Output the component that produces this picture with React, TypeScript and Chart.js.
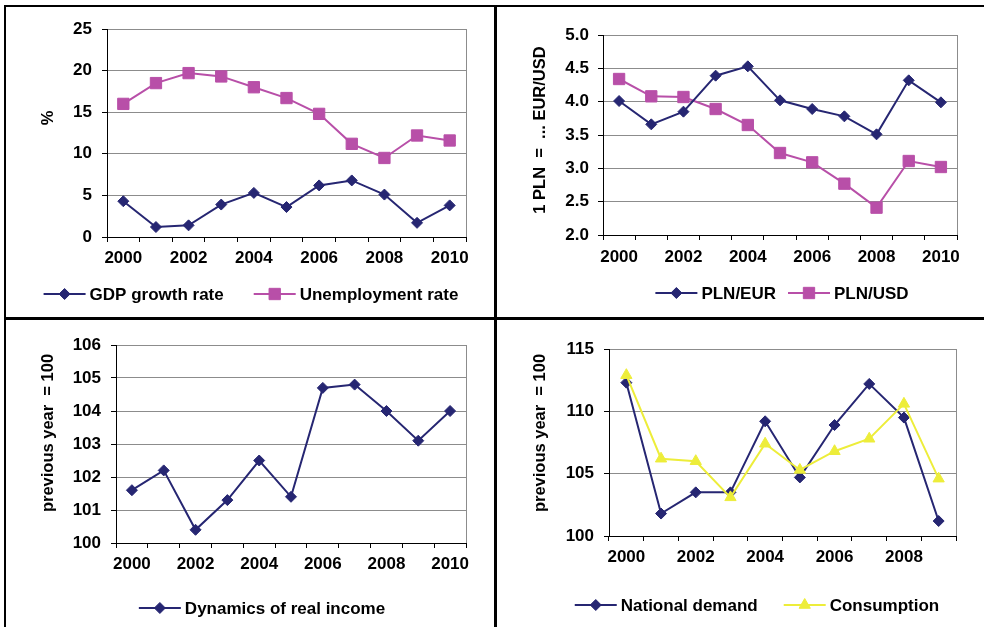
import React, { useEffect, useRef } from 'react';
import { Chart, registerables } from 'chart.js';

Chart.register(...registerables);

const FONT = "'Liberation Sans', Arial, Helvetica, sans-serif";
const NAVY = '#262672';
const MAGENTA = '#B84FA8';
const YELLOW = '#EDED3A';
const GRID = '#8c8c8c';

// ---- data ----
const years11 = ['2000', '2001', '2002', '2003', '2004', '2005', '2006', '2007', '2008', '2009', '2010'];
const years10 = ['2000', '2001', '2002', '2003', '2004', '2005', '2006', '2007', '2008', '2009'];

const gdpGrowth = [4.3, 1.2, 1.4, 3.9, 5.3, 3.6, 6.2, 6.8, 5.1, 1.7, 3.8];
const unemployment = [16.0, 18.5, 19.7, 19.3, 18.0, 16.7, 14.8, 11.2, 9.5, 12.2, 11.6];

const plnEur = [4.01, 3.66, 3.85, 4.39, 4.53, 4.02, 3.89, 3.78, 3.51, 4.32, 3.99];
const plnUsd = [4.34, 4.08, 4.07, 3.89, 3.65, 3.23, 3.09, 2.77, 2.41, 3.11, 3.02];

const realIncome = [101.6, 102.2, 100.4, 101.3, 102.5, 101.4, 104.7, 104.8, 104.0, 103.1, 104.0];

const nationalDemand = [112.3, 101.8, 103.5, 103.5, 109.2, 104.7, 108.9, 112.2, 109.5, 101.2];
const consumption = [112.9, 106.2, 106.0, 103.1, 107.4, 105.3, 106.8, 107.8, 110.6, 104.6];

// ---- marker drawing for the legend ----
function drawMarker(ctx: CanvasRenderingContext2D, style: string, r: number, x: number, y: number, color: string) {
  ctx.save();
  ctx.fillStyle = color;
  ctx.strokeStyle = color;
  ctx.lineWidth = 1;
  ctx.beginPath();
  if (style === 'rectRot') {
    ctx.moveTo(x - r, y);
    ctx.lineTo(x, y - r);
    ctx.lineTo(x + r, y);
    ctx.lineTo(x, y + r);
    ctx.closePath();
  } else if (style === 'rect') {
    const s = Math.SQRT1_2 * r;
    ctx.rect(x - s, y - s, 2 * s, 2 * s);
  } else if (style === 'triangle') {
    let a = 0;
    ctx.moveTo(x + Math.sin(a) * r, y - Math.cos(a) * r);
    a += (2 * Math.PI) / 3;
    ctx.lineTo(x + Math.sin(a) * r, y - Math.cos(a) * r);
    a += (2 * Math.PI) / 3;
    ctx.lineTo(x + Math.sin(a) * r, y - Math.cos(a) * r);
    ctx.closePath();
  } else {
    ctx.arc(x, y, r, 0, Math.PI * 2);
  }
  ctx.fill();
  ctx.stroke();
  ctx.restore();
}

const overlayPlugin = {
  id: 'overlay',
  beforeDatasetsDraw(chart: any) {
    const { ctx, chartArea } = chart;
    ctx.save();
    ctx.strokeStyle = GRID;
    ctx.lineWidth = 1;
    ctx.beginPath();
    ctx.moveTo(Math.round(chartArea.right) + 0.5, chartArea.top);
    ctx.lineTo(Math.round(chartArea.right) + 0.5, chartArea.bottom);
    ctx.stroke();
    ctx.restore();
  },
  afterDraw(chart: any, _args: any, o: any) {
    const ctx: CanvasRenderingContext2D = chart.ctx;
    // axis title
    ctx.save();
    ctx.font = `bold 16.5px ${FONT}`;
    ctx.fillStyle = '#000';
    ctx.translate(o.titleX, o.titleY);
    ctx.rotate(-Math.PI / 2);
    ctx.textAlign = 'center';
    ctx.textBaseline = 'middle';
    ctx.fillText(o.title, 0, 0);
    ctx.restore();
    // legend
    ctx.save();
    ctx.font = `bold 17px ${FONT}`;
    const ds = chart.data.datasets;
    const LINE = 42;
    const GAP = 4;
    const widths = ds.map((d: any) => LINE + GAP + ctx.measureText(d.label).width);
    const total = widths.reduce((a: number, b: number) => a + b, 0) + o.legendGap * (ds.length - 1);
    let x = o.legendX - total / 2;
    const y = o.legendY;
    ds.forEach((d: any, i: number) => {
      ctx.strokeStyle = d.borderColor;
      ctx.lineWidth = 2;
      ctx.beginPath();
      ctx.moveTo(x, y);
      ctx.lineTo(x + LINE, y);
      ctx.stroke();
      drawMarker(ctx, d.pointStyle, d.pointRadius, x + LINE / 2, y, d.borderColor);
      ctx.fillStyle = '#000';
      ctx.textAlign = 'left';
      ctx.textBaseline = 'middle';
      ctx.fillText(d.label, x + LINE + GAP, y + 1);
      x += widths[i] + o.legendGap;
    });
    ctx.restore();
  },
};

type Series = { label: string; data: number[]; color: string; style: string; radius: number; order: number };

type Panel = {
  left: number; top: number; width: number; height: number;
  area: { l: number; r: number; t: number; b: number };
  labels: string[];
  yMin: number; yMax: number; yStep: number; decimals: number;
  yPad: number; xPad: number;
  title: string; titleX: number; titleY: number;
  legendX: number; legendY: number; legendGap: number;
  series: Series[];
};

const panels: Panel[] = [
  {
    left: 6, top: 7, width: 488, height: 310,
    area: { l: 101, r: 460, t: 22, b: 230 },
    labels: years11, yMin: 0, yMax: 25, yStep: 5, decimals: 0, yPad: 10, xPad: 6,
    title: '%', titleX: 42, titleY: 111,
    legendX: 245, legendY: 287, legendGap: 30,
    series: [
      { label: 'GDP growth rate', data: gdpGrowth, color: NAVY, style: 'rectRot', radius: 5.5, order: 0 },
      { label: 'Unemployment rate', data: unemployment, color: MAGENTA, style: 'rect', radius: 8, order: 1 },
    ],
  },
  {
    left: 497, top: 7, width: 487, height: 310,
    area: { l: 106, r: 460, t: 28, b: 228 },
    labels: years11, yMin: 2, yMax: 5, yStep: 0.5, decimals: 1, yPad: 9, xPad: 7,
    title: '1 PLN  =  ... EUR/USD', titleX: 43, titleY: 123,
    legendX: 285, legendY: 286, legendGap: 12,
    series: [
      { label: 'PLN/EUR', data: plnEur, color: NAVY, style: 'rectRot', radius: 5.5, order: 0 },
      { label: 'PLN/USD', data: plnUsd, color: MAGENTA, style: 'rect', radius: 8, order: 1 },
    ],
  },
  {
    left: 6, top: 320, width: 488, height: 307,
    area: { l: 110, r: 460, t: 25, b: 223 },
    labels: years11, yMin: 100, yMax: 106, yStep: 1, decimals: 0, yPad: 10, xPad: 6,
    title: 'previous year  = 100', titleX: 42, titleY: 113,
    legendX: 256, legendY: 288, legendGap: 20,
    series: [
      { label: 'Dynamics of real income', data: realIncome, color: NAVY, style: 'rectRot', radius: 5.5, order: 0 },
    ],
  },
  {
    left: 497, top: 320, width: 487, height: 307,
    area: { l: 112, r: 459, t: 29, b: 216 },
    labels: years10, yMin: 100, yMax: 115, yStep: 5, decimals: 0, yPad: 10, xPad: 6,
    title: 'previous year  = 100', titleX: 43, titleY: 113,
    legendX: 260, legendY: 285, legendGap: 26,
    series: [
      { label: 'National demand', data: nationalDemand, color: NAVY, style: 'rectRot', radius: 5.5, order: 1 },
      { label: 'Consumption', data: consumption, color: YELLOW, style: 'triangle', radius: 6.5, order: 0 },
    ],
  },
];

function ChartPanel({ p }: { p: Panel }) {
  const ref = useRef<HTMLCanvasElement>(null);
  useEffect(() => {
    const tickFont = { family: FONT, size: 17, weight: 'bold' as const };
    const chart = new Chart(ref.current as HTMLCanvasElement, {
      type: 'line',
      data: {
        labels: p.labels,
        datasets: p.series.map((s) => ({
          label: s.label,
          data: s.data,
          borderColor: s.color,
          backgroundColor: s.color,
          borderWidth: 2,
          pointStyle: s.style,
          pointRadius: s.radius,
          pointHoverRadius: s.radius,
          pointBorderWidth: 1,
          pointBackgroundColor: s.color,
          pointBorderColor: s.color,
          tension: 0,
          order: s.order,
          clip: false as any,
        })),
      },
      options: {
        animation: false,
        responsive: false,
        devicePixelRatio: 1,
        events: [],
        layout: { padding: { left: 0, top: p.area.t, right: p.width - p.area.r, bottom: 0 } },
        plugins: {
          legend: { display: false },
          tooltip: { enabled: false },
          overlay: {
            title: p.title, titleX: p.titleX, titleY: p.titleY,
            legendX: p.legendX, legendY: p.legendY, legendGap: p.legendGap,
          },
        } as any,
        scales: {
          x: {
            type: 'category',
            offset: true,
            grid: {
              offset: true,
              drawOnChartArea: false,
              drawTicks: true,
              tickLength: 5,
              color: '#000',
              tickColor: '#000',
            },
            border: { color: '#000', width: 1 },
            ticks: {
              autoSkip: false,
              maxRotation: 0,
              minRotation: 0,
              padding: p.xPad,
              color: '#000',
              font: tickFont,
              callback: function (this: any, v: any, i: number) {
                return i % 2 === 0 ? this.getLabelForValue(v) : '';
              },
            },
            afterFit: (s: any) => {
              s.height = p.height - p.area.b;
            },
          },
          y: {
            min: p.yMin,
            max: p.yMax,
            ticks: {
              stepSize: p.yStep,
              padding: p.yPad,
              color: '#000',
              font: tickFont,
              callback: (v: any) => Number(v).toFixed(p.decimals),
            },
            grid: {
              color: (c: any) => (c.index === 0 ? 'rgba(0,0,0,0)' : GRID),
              tickColor: '#000',
              tickLength: 5,
              lineWidth: 1,
            },
            border: { color: '#000', width: 1 },
            afterFit: (s: any) => {
              s.width = p.area.l;
            },
          },
        },
      } as any,
      plugins: [overlayPlugin as any],
    });
    return () => chart.destroy();
  }, [p]);
  return (
    <canvas
      ref={ref}
      width={p.width}
      height={p.height}
      style={{ position: 'absolute', left: p.left, top: p.top, width: p.width, height: p.height }}
    />
  );
}

export default function App() {
  const line = (l: number, t: number, w: number, h: number) => (
    <div style={{ position: 'absolute', left: l, top: t, width: w, height: h, background: '#000' }} />
  );
  return (
    <div
      style={{
        position: 'absolute', left: 0, top: 0, width: 984, height: 627,
        background: '#fff', overflow: 'hidden',
      }}
    >
      {panels.map((p, i) => (
        <ChartPanel key={i} p={p} />
      ))}
      {line(4, 5, 980, 2)}
      {line(4, 5, 2, 622)}
      {line(494, 5, 3, 622)}
      {line(4, 317, 980, 3)}
    </div>
  );
}
